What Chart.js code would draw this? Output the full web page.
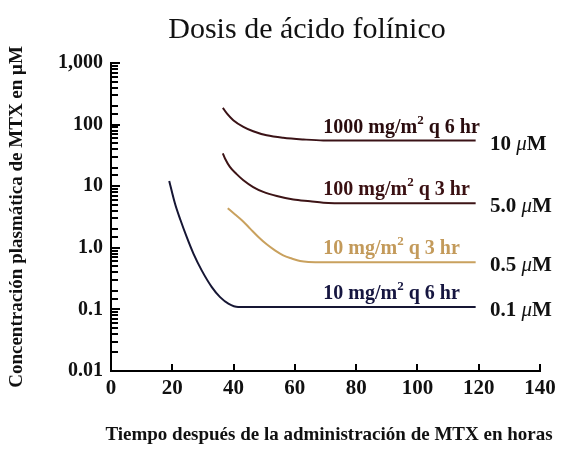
<!DOCTYPE html>
<html>
<head>
<meta charset="utf-8">
<script src="https://cdn.jsdelivr.net/npm/chart.js@4/dist/chart.umd.min.js"></script>
<style>
  html, body { margin: 0; padding: 0; background: #fff; }
</style>
</head>
<body>
<canvas id="grafico" width="563" height="452"></canvas>
<script>
// valores (horas / µM)
const horas1000 = [36.5, 37.8, 39.9, 43.2, 46.4, 50.8, 56.2, 62.8, 69.3, 119];
const conc1000  = [187, 152, 118, 92, 78, 67, 61, 57.4, 55.4, 55];

const horas100 = [36.5, 37.2, 38.8, 41.0, 43.2, 46.4, 49.7, 54.1, 59.5, 65.0, 69.3, 78, 119];
const conc100  = [34, 28.2, 20.6, 15.7, 12.5, 9.7, 8.1, 6.95, 6.1, 5.7, 5.4, 5.3, 5.3];

const horas10q3 = [38.1, 40.5, 42.7, 45.4, 48.1, 50.8, 53.5, 56.2, 59.0, 61.7, 64.4, 69.8, 119];
const conc10q3  = [4.4, 3.47, 2.8, 2.05, 1.5, 1.14, 0.91, 0.755, 0.67, 0.61, 0.59, 0.585, 0.585];

const horas10q6 = [19.0, 20.9, 22.7, 24.7, 26.9, 29.6, 32.9, 35.6, 38.3, 41.5, 119];
const conc10q6  = [12.2, 5.2, 2.8, 1.5, 0.805, 0.43, 0.23, 0.158, 0.124, 0.109, 0.109];

const valoresY   = [0.01, 0.1, 1, 10, 100, 1000];
const etiquetasY = ['0.01', '0.1', '1.0', '10', '100', '1,000'];
const ticksX     = [0, 20, 40, 60, 80, 100, 120, 140];

// textos de cada curva
const dosis      = ['1000 mg/m', '100 mg/m', '10 mg/m', '10 mg/m'];
const frecuencia = [' q 6 hr', ' q 3 hr', ' q 3 hr', ' q 6 hr'];
const nivel      = ['10 ', '5.0 ', '0.5 ', '0.1 '];
const colores    = ['#3a1216', '#3d1416', '#c9a15e', '#161634'];
const coloresTxt = ['#2a0c0e', '#3a1012', '#c39a5a', '#161640'];

const series = [
  [horas1000, conc1000],
  [horas100, conc100],
  [horas10q3, conc10q3],
  [horas10q6, conc10q6]
];

const serif = '"Liberation Serif", "Times New Roman", serif';

const datasets = series.map((s, i) => ({
  label: dosis[i] + '2' + frecuencia[i],
  data: s[0].map((h, j) => ({ x: h, y: s[1][j] })),
  borderColor: colores[i],
  borderWidth: 2,
  pointRadius: 0,
  fill: false,
  cubicInterpolationMode: 'monotone'
}));

// títulos, marcas hacia adentro y rótulos de las curvas
const extras = {
  id: 'extras',
  afterDraw(chart) {
    const { ctx, chartArea: a, scales: { x, y } } = chart;
    ctx.save();

    // título
    ctx.fillStyle = '#111';
    ctx.font = '30px ' + serif;
    ctx.textAlign = 'center';
    ctx.textBaseline = 'middle';
    ctx.fillText('Dosis de ácido folínico', 307, 30);

    // título del eje x (más ancho que el área del gráfico)
    ctx.font = 'bold 19px ' + serif;
    ctx.fillText('Tiempo después de la administración de MTX en horas', 329, 435);

    // marcas del eje y
    ctx.strokeStyle = '#000';
    ctx.lineWidth = 2;
    y.ticks.forEach(t => {
      const l = Math.log10(t.value);
      const mayor = Math.abs(l - Math.round(l)) < 1e-6;
      const py = Math.round(y.getPixelForValue(t.value));
      ctx.beginPath();
      ctx.moveTo(a.left, py);
      ctx.lineTo(a.left + (mayor ? 9 : 7), py);
      ctx.stroke();
    });
    // marcas del eje x
    ticksX.forEach(v => {
      const px = Math.round(x.getPixelForValue(v));
      ctx.beginPath();
      ctx.moveTo(px, a.bottom);
      ctx.lineTo(px, a.bottom - 7);
      ctx.stroke();
    });

    // rótulos
    ctx.textAlign = 'left';
    series.forEach((s, i) => {
      const ultimo = s[1][s[1].length - 1];
      const py = y.getPixelForValue(ultimo);
      // nombre de la dosis
      let px = x.getPixelForValue(69.3);
      ctx.fillStyle = coloresTxt[i];
      ctx.textBaseline = 'alphabetic';
      ctx.font = 'bold 20px ' + serif;
      ctx.fillText(dosis[i], px, py - 8);
      px += ctx.measureText(dosis[i]).width;
      ctx.font = 'bold 13px ' + serif;
      ctx.fillText('2', px, py - 17);
      px += ctx.measureText('2').width;
      ctx.font = 'bold 20px ' + serif;
      ctx.fillText(frecuencia[i], px, py - 8);

      // concentración a la derecha
      let qx = x.getPixelForValue(123.7);
      const qy = py + 9;
      ctx.fillStyle = '#111';
      ctx.font = 'bold 21px ' + serif;
      ctx.fillText(nivel[i], qx, qy);
      qx += ctx.measureText(nivel[i]).width;
      ctx.font = 'italic 21px ' + serif;
      ctx.fillText('\u03BC', qx, qy);
      qx += ctx.measureText('\u03BC').width;
      ctx.font = 'bold 21px ' + serif;
      ctx.fillText('M', qx, qy);
    });
    ctx.restore();
  }
};

const ctx = document.getElementById('grafico').getContext('2d');

new Chart(ctx, {
  type: 'line',
  data: { datasets: datasets },
  options: {
    responsive: false,
    animation: false,
    devicePixelRatio: 1,
    layout: { padding: { top: 63, left: 6, right: 23, bottom: 0 } },
    plugins: {
      legend: { display: false },
      tooltip: { enabled: false },
      title: { display: false }
    },
    scales: {
      x: {
        type: 'linear',
        min: 0,
        max: 140,
        afterFit: s => { s.height = 81; },
        afterBuildTicks: s => { s.ticks = ticksX.map(v => ({ value: v })); },
        grid: { display: false, tickLength: 0 },
        border: { display: true, color: '#000', width: 2 },
        ticks: {
          padding: 5,
          color: '#111',
          font: { family: serif, size: 21, weight: 'bold' }
        },
        title: { display: false }
      },
      y: {
        type: 'logarithmic',
        min: 0.01,
        max: 1000,
        afterFit: s => { s.width = 105; },
        grid: { display: false, tickLength: 0 },
        border: { display: true, color: '#000', width: 2 },
        ticks: {
          autoSkip: false,
          padding: 8,
          color: '#111',
          font: { family: serif, size: 20, weight: 'bold' },
          callback: v => {
            const i = valoresY.findIndex(t => Math.abs(Math.log10(t) - Math.log10(v)) < 1e-6);
            return i >= 0 ? etiquetasY[i] : '';
          }
        },
        title: {
          display: true,
          text: 'Concentración plasmática de MTX en μM',
          color: '#111',
          font: { family: serif, size: 19, weight: 'bold' },
          padding: { top: 0, bottom: 0 }
        }
      }
    }
  },
  plugins: [extras]
});
</script>
</body>
</html>
